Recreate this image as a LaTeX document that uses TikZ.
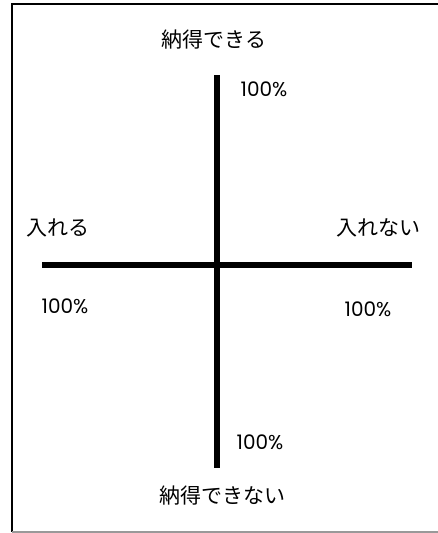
\documentclass[tikz,border=0pt]{standalone}
\usepackage{fontspec}
\newfontfamily\jpfont{Noto Sans CJK JP}
\newfontfamily\numfont{Poppins}
\begin{document}
\begin{tikzpicture}[x=1pt,y=-1pt,
  axis/.style={line width=6pt,black},
  frame/.style={line width=2pt,black},
  jlabel/.style={font=\jpfont\fontsize{21}{21}\selectfont,inner sep=0pt,anchor=center},
  pct/.style={font=\numfont\fontsize{20}{20}\selectfont,inner sep=0pt,anchor=center}]
\useasboundingbox (0,0) rectangle (438,533);
% frame
\coordinate (ftl) at (12,4);
\coordinate (ftr) at (438,4);
\coordinate (fbl) at (12,532);
\coordinate (fbr) at (438,532);
\draw[frame] (ftr) -- (ftl) -- (fbl);
\draw[line width=1.5pt,gray!80] (fbl) -- (fbr);
% axes
\coordinate (top) at (217,75);
\coordinate (bottom) at (217,468);
\coordinate (left) at (42,265);
\coordinate (right) at (412,265);
\draw[axis] (top) -- (bottom);
\draw[axis] (left) -- (right);
% labels
\node[jlabel] (lt) at (214,40) {納得できる};
\node[jlabel] (lb) at (222,496) {納得できない};
\node[jlabel] (ll) at (58,228) {入れる};
\node[jlabel] (lr) at (378,228) {入れない};
\node[pct] (pt) at (264,89) {100\%};
\node[pct] (pb) at (260,442) {100\%};
\node[pct] (pl) at (65,306) {100\%};
\node[pct] (pr) at (368,309) {100\%};
\end{tikzpicture}
\end{document}
